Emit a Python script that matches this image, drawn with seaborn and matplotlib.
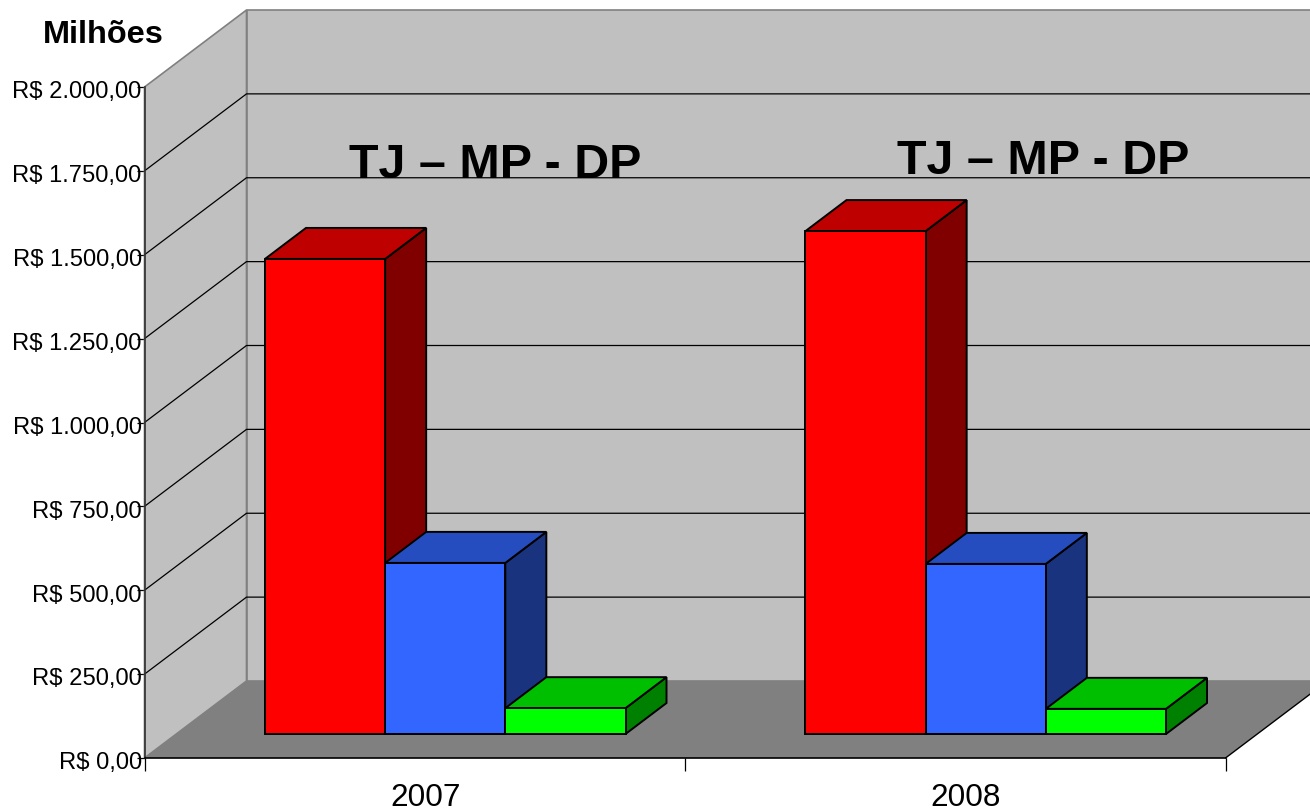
import matplotlib
matplotlib.use("Agg")
import matplotlib.pyplot as plt
from matplotlib.patches import Polygon
from matplotlib.transforms import ScaledTranslation
import pandas as pd
import seaborn as sns

# dados (milhoes de R$)
anos = ["2007", "2008"]
orgaos = ["TJ", "MP", "DP"]
valores_tj = [1416, 1499]
valores_mp = [510, 507]
valores_dp = [77, 75]
marcas_y = [0, 250, 500, 750, 1000, 1250, 1500, 1750, 2000]
rotulos_y = ["R$ 0,00", "R$ 250,00", "R$ 500,00", "R$ 750,00", "R$ 1.000,00",
             "R$ 1.250,00", "R$ 1.500,00", "R$ 1.750,00", "R$ 2.000,00"]

cores_frente = ["#FF0000", "#3366FF", "#00FF00"]
cores_topo = ["#BF0000", "#264DBF", "#00BF00"]
cores_lado = ["#800000", "#1A337F", "#008000"]

dados = pd.DataFrame({
    "ano": anos * 3,
    "orgao": [o for o in orgaos for _ in anos],
    "valor": valores_tj + valores_mp + valores_dp,
})

sns.set_theme(style="white")
plt.rcParams["font.family"] = ["Liberation Sans", "DejaVu Sans"]

fig = plt.figure(figsize=(13.1, 8.11), dpi=100)
ax = fig.add_axes([144.5 / 1310, (811 - 758) / 811, 1081 / 1310, 671 / 811])

sns.barplot(data=dados, x="ano", y="valor", hue="orgao", hue_order=orgaos,
            palette=cores_frente, width=0.667, saturation=1, legend=False,
            edgecolor="black", linewidth=1.4, ax=ax)
barras = sorted(ax.patches, key=lambda p: p.get_x())
ax.set_xlim(-0.5, 1.5)
ax.set_ylim(0, 2000)
ax.set_xlabel("")
ax.set_ylabel("")

# profundidade do "3D", em unidades dos eixos
px_x = 2 / 1081
px_y = 2000 / 671
fundo_x, fundo_y = 102 * px_x, 77 * px_y
barra_x, barra_y = 41 * px_x, 31 * px_y
base_x, base_y = 30.5 * px_x, 24 * px_y
x0, x1 = -0.5, 1.5

# paredes e chao
ax.add_patch(Polygon([(x0, 0), (x0 + fundo_x, fundo_y), (x0 + fundo_x, 2000 + fundo_y), (x0, 2000)],
                     facecolor="#C0C0C0", edgecolor="#808080", lw=1.2, zorder=1, clip_on=False))
ax.add_patch(Polygon([(x0 + fundo_x, fundo_y), (x1 + fundo_x, fundo_y), (x1 + fundo_x, 2000 + fundo_y),
                      (x0 + fundo_x, 2000 + fundo_y)],
                     facecolor="#C0C0C0", edgecolor="#808080", lw=1.2, zorder=1, clip_on=False))
ax.add_patch(Polygon([(x0, 0), (x1, 0), (x1 + fundo_x, fundo_y), (x0 + fundo_x, fundo_y)],
                     facecolor="#808080", edgecolor="none", zorder=1.1, clip_on=False))
ax.plot([x1, x1 + fundo_x], [0, fundo_y], color="black", lw=1, zorder=1.2, clip_on=False)

# linhas de grade
for m in marcas_y[1:-1]:
    ax.plot([x0, x0 + fundo_x, x1 + fundo_x], [m, m + fundo_y, m + fundo_y],
            color="black", lw=0.9, zorder=2, clip_on=False)

# faces laterais e de topo de cada barra
for i, p in enumerate(barras):
    p.set_x(p.get_x() + base_x)
    p.set_y(base_y)
    p.set_zorder(5.5 + i)
    esq, dir_ = p.get_x(), p.get_x() + p.get_width()
    baixo, cima = base_y, base_y + p.get_height()
    n = i % 3
    ax.add_patch(Polygon([(dir_, baixo), (dir_ + barra_x, baixo + barra_y),
                          (dir_ + barra_x, cima + barra_y), (dir_, cima)],
                         facecolor=cores_lado[n], edgecolor="black", lw=1.4, zorder=5 + i))
    ax.add_patch(Polygon([(esq, cima), (dir_, cima), (dir_ + barra_x, cima + barra_y),
                          (esq + barra_x, cima + barra_y)],
                         facecolor=cores_topo[n], edgecolor="black", lw=1.4, zorder=5 + i))

# eixos
sns.despine(ax=ax, top=True, right=True)
ax.spines["left"].set_color("#333333")
ax.spines["left"].set_linewidth(1.2)
ax.spines["bottom"].set_color("black")
ax.spines["bottom"].set_linewidth(1.2)
for s in ax.spines.values():
    s.set_zorder(4)

ax.set_yticks(marcas_y, rotulos_y)
ax.tick_params(axis="y", left=True, length=6, width=0.9, color="black", pad=-4, labelsize=17.1, labelcolor="black")
desloc = ScaledTranslation(0, -2 / 72, fig.dpi_scale_trans)
for t in ax.get_yticklabels():
    t.set_transform(t.get_transform() + desloc)

ax.set_xticks([-0.5, 0.5, 1.5], ["", "", ""])
ax.set_xticks([0.02, 1.02], anos, minor=True)
ax.tick_params(axis="x", which="major", bottom=True, length=9, width=0.9, color="black")
ax.tick_params(axis="x", which="minor", bottom=False, length=0, pad=18, labelsize=22.7, labelcolor="black")

# textos
for x_txt, y_txt in [(495, 178), (1043, 174)]:
    ax.text(x_txt / 1310, 1 - y_txt / 811, "TJ – MP - DP", fontsize=34.8, fontweight="bold",
            ha="center", va="baseline", color="black", zorder=1.5, transform=fig.transFigure)
fig.text(103.5 / 1310, 1 - 43 / 811, "Milhões", fontsize=23.4, fontweight="bold",
         ha="center", va="baseline", color="black")

fig.savefig("out.png", dpi=100)
